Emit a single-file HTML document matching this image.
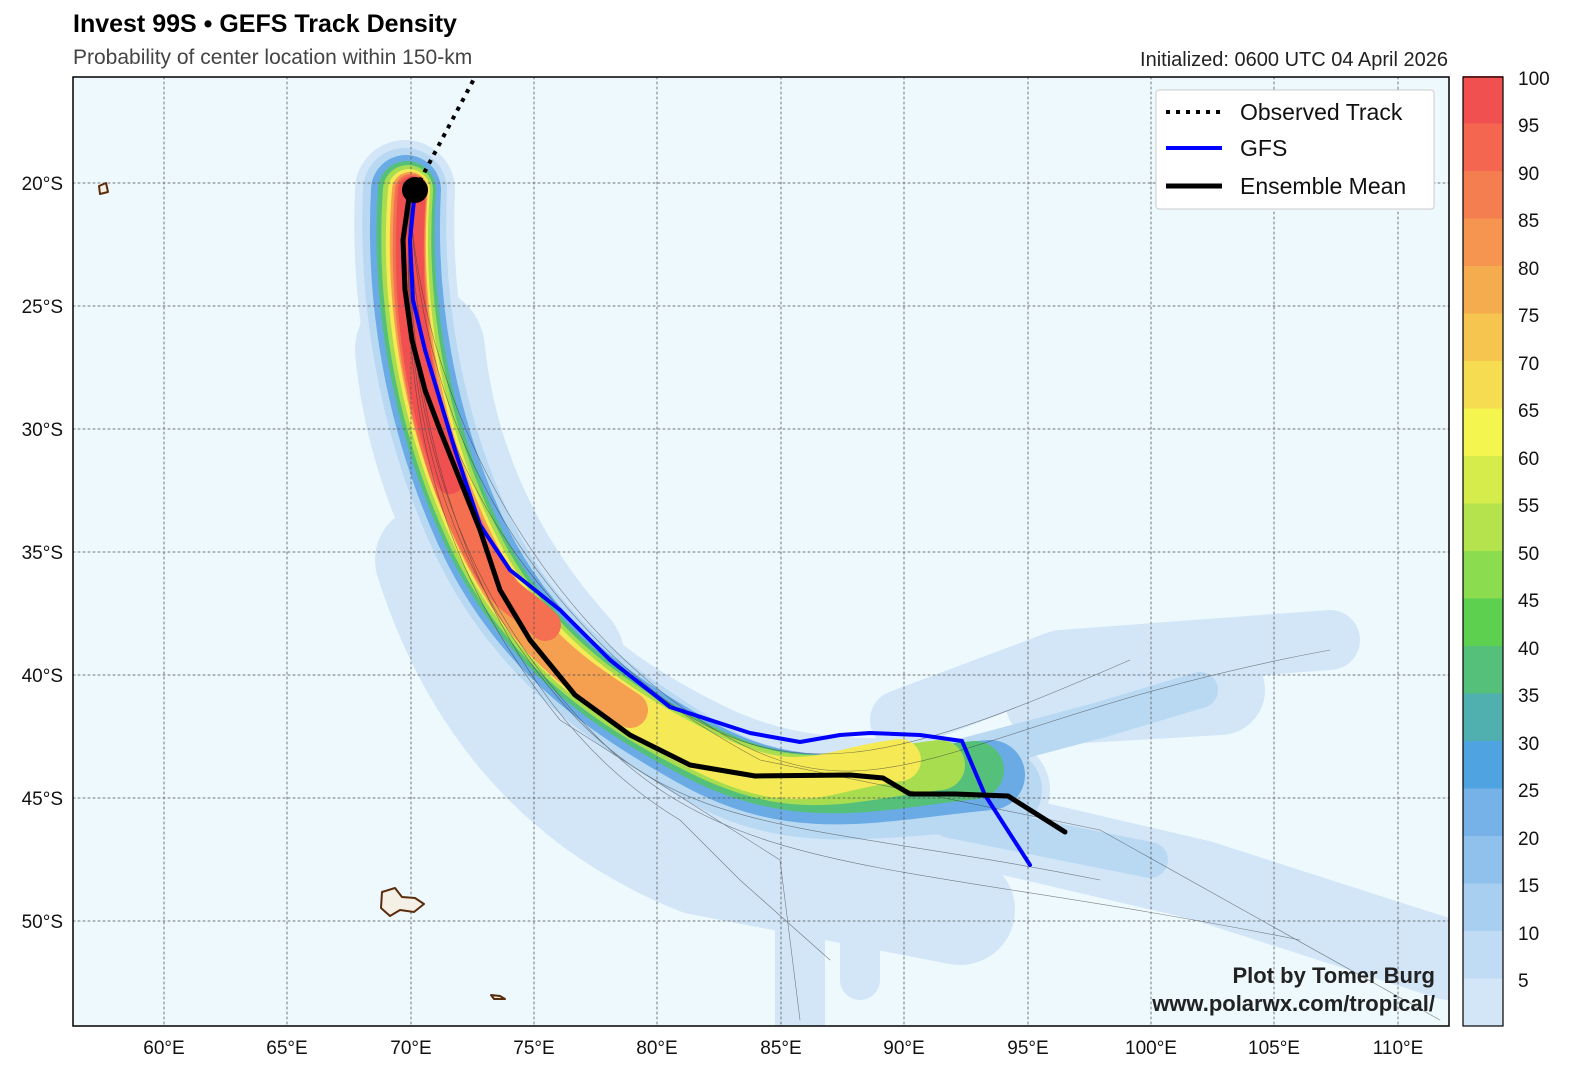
<!DOCTYPE html>
<html><head><meta charset="utf-8"><style>
body{margin:0;background:#fff;width:1576px;height:1076px;overflow:hidden;font-family:"Liberation Sans",sans-serif}
</style></head><body>
<svg width="1576" height="1076" xmlns="http://www.w3.org/2000/svg" font-family="Liberation Sans, sans-serif">
<defs><clipPath id="c"><rect x="73" y="77" width="1376" height="949"/></clipPath></defs>
<text x="73" y="32" font-size="25" font-weight="bold">Invest 99S • GEFS Track Density</text>
<text x="73" y="64" font-size="21" fill="#444">Probability of center location within 150-km</text>
<text x="1448" y="66" font-size="20" text-anchor="end" fill="#222">Initialized: 0600 UTC 04 April 2026</text>
<rect x="73" y="77" width="1376" height="949" fill="#edf9fd"/>
<g clip-path="url(#c)" fill="none" stroke-linecap="round" stroke-linejoin="round">
<g stroke="#d2e6f8">
<path d="M430,560 Q500,780 700,860 L960,910" stroke-width="110"/>
<path d="M900,720 L1060,660 L1330,640" stroke-width="60"/>
<path d="M900,810 L1200,880 L1449,960" stroke-width="80"/>
<path d="M800,880 L800,1040" stroke-width="50"/>
<path d="M860,880 L860,980" stroke-width="40"/>
<path d="M1050,700 L1220,690" stroke-width="90"/>
<path d="M405,190 C400,300 420,420 470,530 S600,700 700,750 S880,785 1000,790" stroke-width="100"/>
<path d="M420,350 C430,450 470,560 560,660" stroke-width="130"/>
</g>
<g stroke="#b9d9f3">
<path d="M405,190 C400,300 420,420 470,530 S600,700 700,760 S880,790 1000,790" stroke-width="84"/>
<path d="M950,760 L1100,720 L1200,690" stroke-width="36"/>
<path d="M950,820 L1150,860" stroke-width="36"/>
</g>
<g stroke="#6aabe6">
<path d="M406,190 C400,300 420,420 470,530 S600,700 700,755 S880,785 990,775" stroke-width="70"/>
</g>
<g stroke="#55c07a">
<path d="M407,190 C400,300 420,420 470,530 S600,700 700,752 S880,780 975,770" stroke-width="58"/>
</g>
<g stroke="#a8dd50">
<path d="M408,190 C400,300 420,420 470,530 S600,700 700,750 S850,775 940,765" stroke-width="50"/>
</g>
<g stroke="#f5ea55">
<path d="M409,190 C400,300 420,420 470,530 S600,700 700,750 S820,770 900,760" stroke-width="42"/>
</g>
<g stroke="#f5a050">
<path d="M410,190 C401,300 420,420 470,530 S570,670 630,710" stroke-width="36"/>
</g>
<g stroke="#f57050">
<path d="M411,190 C402,300 420,420 462,515 S510,590 545,625" stroke-width="32"/>
</g>
<g stroke="#f05050">
<path d="M412,190 C404,300 418,400 450,480" stroke-width="28"/>
</g>
<g stroke="#333" stroke-width="0.6" opacity="0.6">
<path d="M410,200 C420,400 500,560 640,680 S900,760 1130,660"/>
<path d="M410,200 C400,400 440,560 560,700 S800,820 1100,880"/>
<path d="M410,200 C400,420 460,600 600,740 S900,860 1300,940"/>
<path d="M410,200 C420,380 520,600 700,720 S950,720 1330,650"/>
<path d="M410,200 C400,420 480,700 680,820 L740,880 L830,960"/>
<path d="M410,200 C400,400 430,560 560,720 L780,860 L800,1020"/>
<path d="M410,200 C410,420 500,620 760,760 L1100,830 L1440,1020"/>
</g>
<g stroke="#555" stroke-width="1" stroke-dasharray="2,3" opacity="0.8">
<path d="M164,77V1026M287,77V1026M411,77V1026M534,77V1026M657,77V1026M781,77V1026M904,77V1026M1028,77V1026M1151,77V1026M1274,77V1026M1398,77V1026"/>
<path d="M73,183H1449M73,306H1449M73,429H1449M73,552H1449M73,675H1449M73,798H1449M73,921H1449"/>
</g>
<g fill="#f5f0e6" stroke="#5a2d0c" stroke-width="2">
<path d="M382,892 L395,888 L402,897 L415,898 L424,904 L414,912 L400,910 L390,916 L381,908 Z"/>
<path d="M99,186 L106,183 L108,192 L100,194 Z"/>
<path d="M491,995 L500,996 L505,999 L494,999 Z"/>
</g>
<path d="M415,190 L475,77" stroke="#000" stroke-width="4" stroke-dasharray="4,6" stroke-linecap="butt"/>
<path d="M415,190 L410,240 L413,300 L425,350 L440,400 L455,450 L480,525 L510,570 L560,610 L610,660 L670,707 L750,733 L800,742 L840,735 L870,733 L920,735 L962,741 L985,795 L1030,865" stroke="#0000ff" stroke-width="4"/>
<path d="M410,190 L403,240 L405,290 L412,340 L425,390 L440,430 L460,480 L480,530 L500,590 L530,640 L575,695 L630,735 L690,765 L755,776 L850,775 L883,778 L910,794 L955,794 L1008,796 L1065,832" stroke="#000" stroke-width="5"/>
<circle cx="415" cy="190" r="13" fill="#000" stroke="none"/>
</g>
<rect x="73" y="77" width="1376" height="949" fill="none" stroke="#000" stroke-width="1.5"/>
<g font-size="19" fill="#111">
<g text-anchor="end"><text x="63" y="190">20°S</text><text x="63" y="313">25°S</text><text x="63" y="436">30°S</text><text x="63" y="559">35°S</text><text x="63" y="682">40°S</text><text x="63" y="805">45°S</text><text x="63" y="928">50°S</text></g>
<g text-anchor="middle"><text x="164" y="1054">60°E</text><text x="287" y="1054">65°E</text><text x="411" y="1054">70°E</text><text x="534" y="1054">75°E</text><text x="657" y="1054">80°E</text><text x="781" y="1054">85°E</text><text x="904" y="1054">90°E</text><text x="1028" y="1054">95°E</text><text x="1151" y="1054">100°E</text><text x="1274" y="1054">105°E</text><text x="1398" y="1054">110°E</text></g>
</g>
<rect x="1156" y="90" width="278" height="119" rx="3" fill="#fff" stroke="#ccc"/>
<path d="M1166,112H1222" stroke="#000" stroke-width="4" stroke-dasharray="4,6"/>
<path d="M1166,148H1222" stroke="#00f" stroke-width="4"/>
<path d="M1166,186H1222" stroke="#000" stroke-width="5"/>
<g font-size="23" fill="#111"><text x="1240" y="120">Observed Track</text><text x="1240" y="156">GFS</text><text x="1240" y="194">Ensemble Mean</text></g>
<g font-size="22" font-weight="bold" fill="#222" text-anchor="end"><text x="1435" y="983">Plot by Tomer Burg</text><text x="1435" y="1011">www.polarwx.com/tropical/</text></g>
<g>
<rect x="1463" y="978.5" width="40" height="47.5" fill="#d2e6f8"/>
<rect x="1463" y="931" width="40" height="47.5" fill="#c0dcf4"/>
<rect x="1463" y="883.5" width="40" height="47.5" fill="#a8cff0"/>
<rect x="1463" y="836" width="40" height="47.5" fill="#8fc1ec"/>
<rect x="1463" y="788.5" width="40" height="47.5" fill="#76b2e8"/>
<rect x="1463" y="741" width="40" height="47.5" fill="#4fa3e0"/>
<rect x="1463" y="693.5" width="40" height="47.5" fill="#50b0b0"/>
<rect x="1463" y="646" width="40" height="47.5" fill="#55c07a"/>
<rect x="1463" y="598.5" width="40" height="47.5" fill="#5dd050"/>
<rect x="1463" y="551" width="40" height="47.5" fill="#8cdc50"/>
<rect x="1463" y="503.5" width="40" height="47.5" fill="#b5e34e"/>
<rect x="1463" y="456" width="40" height="47.5" fill="#d5ec4a"/>
<rect x="1463" y="408.5" width="40" height="47.5" fill="#f5f550"/>
<rect x="1463" y="361" width="40" height="47.5" fill="#f5dc50"/>
<rect x="1463" y="313.5" width="40" height="47.5" fill="#f5c550"/>
<rect x="1463" y="266" width="40" height="47.5" fill="#f5ac4f"/>
<rect x="1463" y="218.5" width="40" height="47.5" fill="#f59550"/>
<rect x="1463" y="171" width="40" height="47.5" fill="#f57e50"/>
<rect x="1463" y="123.5" width="40" height="47.5" fill="#f56650"/>
<rect x="1463" y="76" width="40" height="47.5" fill="#f05050"/>
<rect x="1463" y="77" width="40" height="949" fill="none" stroke="#000" stroke-width="1.2"/>
</g>
<g font-size="19" fill="#111">
<text x="1518" y="85">100</text><text x="1518" y="132">95</text><text x="1518" y="180">90</text><text x="1518" y="227">85</text><text x="1518" y="275">80</text><text x="1518" y="322">75</text><text x="1518" y="370">70</text><text x="1518" y="417">65</text><text x="1518" y="465">60</text><text x="1518" y="512">55</text><text x="1518" y="560">50</text><text x="1518" y="607">45</text><text x="1518" y="655">40</text><text x="1518" y="702">35</text><text x="1518" y="750">30</text><text x="1518" y="797">25</text><text x="1518" y="845">20</text><text x="1518" y="892">15</text><text x="1518" y="940">10</text><text x="1518" y="987">5</text>
</g>
</svg>
</body></html>
